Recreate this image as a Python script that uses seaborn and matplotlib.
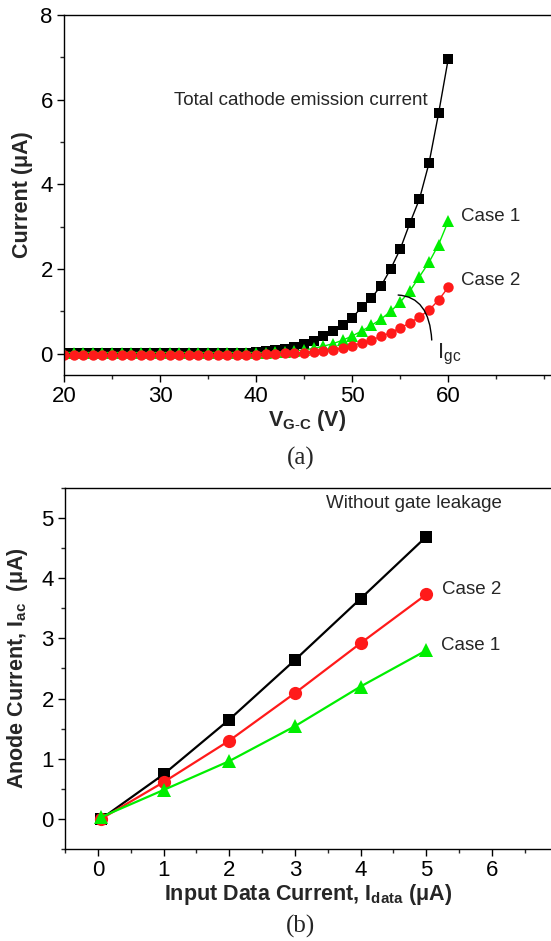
import numpy as np
import matplotlib
matplotlib.use("Agg")
import matplotlib.pyplot as plt
import seaborn as sns
from matplotlib.ticker import MultipleLocator

sns.set_style("ticks")
plt.rcParams['font.family'] = ['Liberation Sans', 'DejaVu Sans']
plt.rcParams['mathtext.fontset'] = 'custom'
plt.rcParams['mathtext.rm'] = 'Liberation Sans'
plt.rcParams['mathtext.bf'] = 'Liberation Sans:bold'

# (a) emission current vs gate-cathode voltage
vgc = list(range(20, 61))
total = [0.02] * 20 + [0.04, 0.06, 0.08, 0.12, 0.17, 0.23, 0.31, 0.42, 0.54, 0.68,
                       0.85, 1.10, 1.32, 1.60, 2.00, 2.47, 3.08, 3.65, 4.50, 5.68, 6.96]
case1 = [0.03] * 20 + [0.03, 0.03, 0.04, 0.05, 0.07, 0.09, 0.13, 0.18, 0.24, 0.32,
                       0.42, 0.54, 0.67, 0.82, 1.00, 1.22, 1.48, 1.82, 2.16, 2.58, 3.13]
case2 = [-0.03] * 20 + [-0.02, -0.01, 0.0, 0.01, 0.02, 0.03, 0.05, 0.07, 0.10, 0.14,
                        0.19, 0.26, 0.33, 0.41, 0.50, 0.61, 0.73, 0.87, 1.03, 1.27, 1.57]

# (b) anode current vs input data current
idata = [0.05, 1, 2, 3, 4, 5]
anode_total = [0.0, 0.74, 1.65, 2.64, 3.66, 4.69]
anode_case2 = [0.0, 0.61, 1.30, 2.09, 2.92, 3.73]
anode_case1 = [0.03, 0.48, 0.96, 1.54, 2.20, 2.80]

GREEN = '#00ee00'
RED = '#ff1a1a'
MU = '\u03bc'

fig = plt.figure(figsize=(5.51, 9.41), dpi=100)
ax1 = fig.add_axes([0.116, 0.6015, 0.884, 0.3825])
ax2 = fig.add_axes([0.118, 0.0978, 0.882, 0.3836])


def style_axes(ax):
    ax.spines['right'].set_visible(False)
    for s in ['left', 'bottom', 'top']:
        ax.spines[s].set_linewidth(1.0)
        ax.spines[s].set_color('black')
    ax.tick_params(which='major', direction='out', length=5, width=1,
                   labelsize=16, colors='black', top=False, right=False, pad=3)
    ax.tick_params(which='minor', direction='out', length=3, width=1,
                   top=False, right=False)


sns.lineplot(x=vgc, y=total, ax=ax1, color='black', marker='s', markersize=7.2,
             markeredgewidth=0, linewidth=1.0)
sns.lineplot(x=vgc, y=case1, ax=ax1, color=GREEN, marker='^', markersize=8.5,
             markeredgewidth=0, linewidth=1.0)
sns.lineplot(x=vgc, y=case2, ax=ax1, color=RED, marker='o', markersize=7.5,
             markeredgewidth=0, linewidth=1.0)
ax1.set_xlim(20, 70.7)
ax1.set_ylim(-0.5, 8)
ax1.set_xticks([20, 30, 40, 50, 60])
ax1.set_yticks([0, 2, 4, 6, 8])
ax1.xaxis.set_minor_locator(MultipleLocator(5))
ax1.yaxis.set_minor_locator(MultipleLocator(1))
style_axes(ax1)
ax1.set_xlabel(r'V$_{\mathbf{G\text{-}C}}$ (V)', fontsize=15.5, fontweight='bold', labelpad=1)
ax1.set_ylabel('Current (' + MU + 'A)', fontsize=15.5, fontweight='bold', labelpad=5)
ax1.text(57.9, 5.98, 'Total cathode emission current', fontsize=13.5,
         ha='right', va='center')
ax1.text(61.3, 3.25, 'Case 1', fontsize=13.5, ha='left', va='center')
ax1.text(61.3, 1.72, 'Case 2', fontsize=13.5, ha='left', va='center')
ax1.text(58.8, -0.02, r'I$_{\mathrm{gc}}$', fontsize=16, ha='left', va='center')
ax1.annotate('', xy=(58.3, 0.26), xytext=(54.5, 1.39),
             arrowprops=dict(arrowstyle='-', color='black', lw=1.0,
                             connectionstyle='angle3,angleA=0,angleB=92'))
fig.text(0.545, 0.513, '(a)', fontsize=18, family='Liberation Serif',
         ha='center', va='center')

sns.lineplot(x=idata, y=anode_total, ax=ax2, color='black', marker='s', markersize=8.8,
             markeredgewidth=0, linewidth=1.6)
sns.lineplot(x=idata, y=anode_case2, ax=ax2, color=RED, marker='o', markersize=9.5,
             markeredgewidth=0, linewidth=1.6)
sns.lineplot(x=idata, y=anode_case1, ax=ax2, color=GREEN, marker='^', markersize=10,
             markeredgewidth=0, linewidth=1.6)
ax2.set_xlim(-0.5, 6.9)
ax2.set_ylim(-0.5, 5.5)
ax2.set_xticks([0, 1, 2, 3, 4, 5, 6])
ax2.set_yticks([0, 1, 2, 3, 4, 5])
ax2.xaxis.set_minor_locator(MultipleLocator(0.5))
ax2.yaxis.set_minor_locator(MultipleLocator(0.5))
style_axes(ax2)
ax2.set_xlabel('Input Data Current, I$_{\\mathbf{data}}$ (' + MU + 'A)', fontsize=15.5,
               fontweight='bold', labelpad=1)
ax2.set_ylabel('Anode Current, I$_{\\mathbf{ac}}$  (' + MU + 'A)', fontsize=15.5,
               fontweight='bold', labelpad=8)
ax2.text(6.15, 5.25, 'Without gate leakage', fontsize=13.5, ha='right', va='center')
ax2.text(5.24, 3.82, 'Case 2', fontsize=13.5, ha='left', va='center')
ax2.text(5.22, 2.88, 'Case 1', fontsize=13.5, ha='left', va='center')
fig.text(0.545, 0.015, '(b)', fontsize=18, family='Liberation Serif',
         ha='center', va='center')

fig.savefig('out.png', dpi=100)
